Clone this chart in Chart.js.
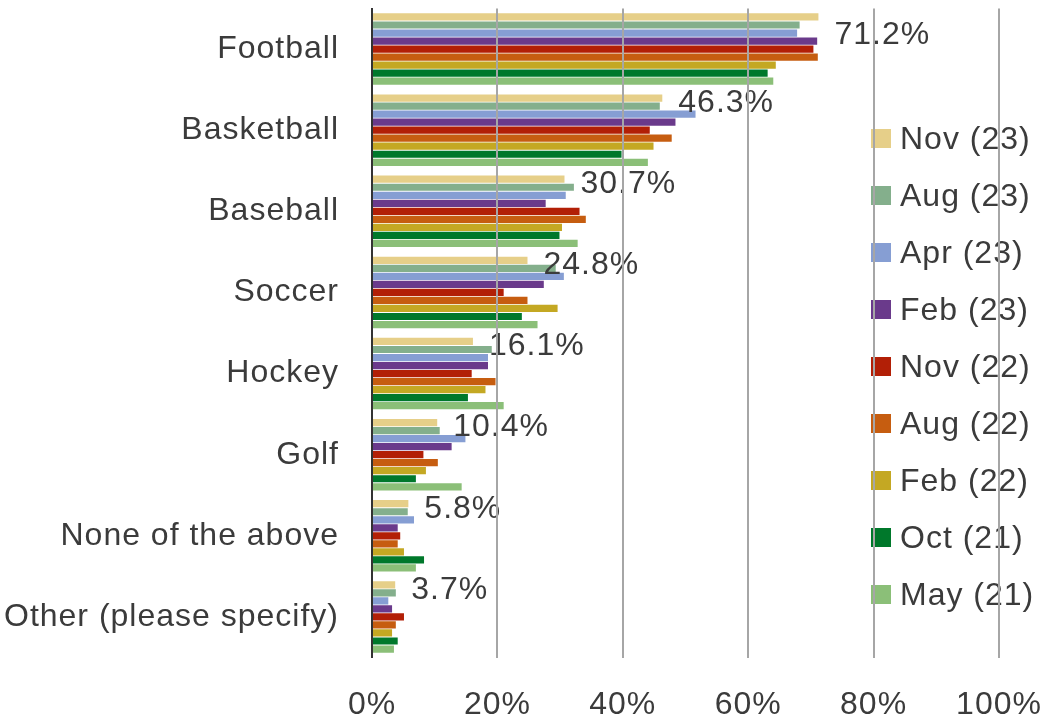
<!DOCTYPE html>
<html>
<head>
<meta charset="utf-8">
<title>Sports followed</title>
<script src="https://cdn.jsdelivr.net/npm/chart.js@4.4.1/dist/chart.umd.min.js"></script>
<style>
    html, body { margin: 0; padding: 0; background: #fff; }
    #wrap { width: 1048px; height: 721px; }
</style>
</head>
<body>
<div id="wrap"><canvas id="chart" width="1048" height="721"></canvas></div>
<script>
// categories, top to bottom
const categories = ['Football', 'Basketball', 'Baseball', 'Soccer', 'Hockey', 'Golf',
    'None of the above', 'Other (please specify)'];

// survey waves (percent), newest first as in the legend
const nov23 = [71.2, 46.3, 30.7, 24.8, 16.1, 10.4, 5.8, 3.7];
const aug23 = [68.2, 45.9, 32.2, 29.3, 19.1, 10.8, 5.7, 3.8];
const apr23 = [67.8, 51.6, 30.9, 30.6, 18.5, 14.9, 6.7, 2.6];
const feb23 = [71.0, 48.4, 27.7, 27.4, 18.5, 12.7, 4.1, 3.2];
const nov22 = [70.4, 44.3, 33.1, 21.0, 15.9, 8.2, 4.5, 5.1];
const aug22 = [71.1, 47.8, 34.1, 24.8, 19.7, 10.5, 4.1, 3.8];
const feb22 = [64.4, 44.9, 30.3, 29.6, 18.1, 8.6, 5.1, 3.2];
const oct21 = [63.1, 39.8, 29.9, 23.9, 15.3, 7.0, 8.3, 4.1];
const may21 = [64.0, 44.0, 32.8, 26.4, 21.0, 14.3, 7.0, 3.5];

const seriesNames = ['Nov (23)', 'Aug (23)', 'Apr (23)', 'Feb (23)', 'Nov (22)',
    'Aug (22)', 'Feb (22)', 'Oct (21)', 'May (21)'];
const seriesValues = [nov23, aug23, apr23, feb23, nov22, aug22, feb22, oct21, may21];
const seriesColors = ['#E6CF89', '#84AF8C', '#869ED3', '#6A3A8B', '#B21F06',
    '#C65D10', '#C4A823', '#00782B', '#8BBF78'];

// x axis ticks
const xTicks = [0, 20, 40, 60, 80, 100];

const FONT = "'Liberation Sans', Arial, sans-serif";
const TEXT = '#3b3b3b';

// the original text is set a touch wider than plain Arial
const spacing = {
    id: 'spacing',
    beforeDraw(chart) {
        chart.ctx.letterSpacing = '1px';
    }
};

// value labels for the newest wave only, drawn under the grid lines
const valueLabels = {
    id: 'valueLabels',
    afterDatasetsDraw(chart) {
        const ctx = chart.ctx;
        const meta = chart.getDatasetMeta(0);
        ctx.save();
        ctx.font = '32px ' + FONT;
        ctx.fillStyle = TEXT;
        ctx.textAlign = 'left';
        ctx.textBaseline = 'middle';
        meta.data.forEach((bar, i) => {
            const y = Math.max(bar.y + 5, chart.chartArea.top + 27);
            ctx.fillText(nov23[i].toFixed(1) + '%', bar.x + 16, y);
        });
        ctx.restore();
    }
};

// legend sitting inside the plot, grid lines pass over it
const insideLegend = {
    id: 'insideLegend',
    afterDatasetsDraw(chart) {
        const ctx = chart.ctx;
        const left = 871, top = 139, step = 57;
        ctx.save();
        ctx.font = '32px ' + FONT;
        ctx.textAlign = 'left';
        ctx.textBaseline = 'middle';
        chart.data.datasets.forEach((ds, i) => {
            const cy = top + i * step;
            ctx.fillStyle = ds.backgroundColor;
            ctx.fillRect(left, cy - 10, 20, 19);
            ctx.fillStyle = TEXT;
            ctx.fillText(ds.label, left + 29, cy + 1);
        });
        ctx.restore();
    }
};

function noScalePadding(scale) {
    scale.paddingTop = 0;
    scale.paddingBottom = 0;
    scale.paddingLeft = 0;
    scale.paddingRight = 0;
}

const chart = new Chart(document.getElementById('chart'), {
    type: 'bar',
    data: {
        labels: categories,
        datasets: seriesNames.map((name, i) => ({
            label: name,
            data: seriesValues[i],
            backgroundColor: seriesColors[i],
            borderWidth: 0,
            barPercentage: 0.9,
            categoryPercentage: 0.89
        }))
    },
    options: {
        indexAxis: 'y',
        responsive: false,
        animation: false,
        layout: { padding: { top: 8.5, right: 49, bottom: 0, left: 0 } },
        plugins: {
            legend: { display: false },
            tooltip: { enabled: false }
        },
        scales: {
            x: {
                min: 0,
                max: 100,
                afterBuildTicks: (scale) => {
                    scale.ticks = xTicks.map(v => ({ value: v }));
                },
                afterFit: (scale) => {
                    scale.height = 63.5;
                    noScalePadding(scale);
                },
                grid: {
                    z: 1,
                    drawTicks: false,
                    lineWidth: 2,
                    color: (c) => c.tick && c.tick.value === 0 ? 'rgba(0,0,0,0)' : '#a6a6a6'
                },
                border: { display: false },
                ticks: {
                    padding: 28,
                    color: TEXT,
                    font: { family: FONT, size: 32 },
                    callback: (v) => v + '%'
                }
            },
            y: {
                z: 2,
                afterFit: (scale) => {
                    scale.width = 372;
                    noScalePadding(scale);
                },
                grid: { display: false, drawTicks: false },
                border: { display: true, color: '#333333', width: 2 },
                ticks: {
                    padding: 33,
                    color: TEXT,
                    font: { family: FONT, size: 32 }
                }
            }
        }
    },
    plugins: [spacing, valueLabels, insideLegend]
});
</script>
</body>
</html>
